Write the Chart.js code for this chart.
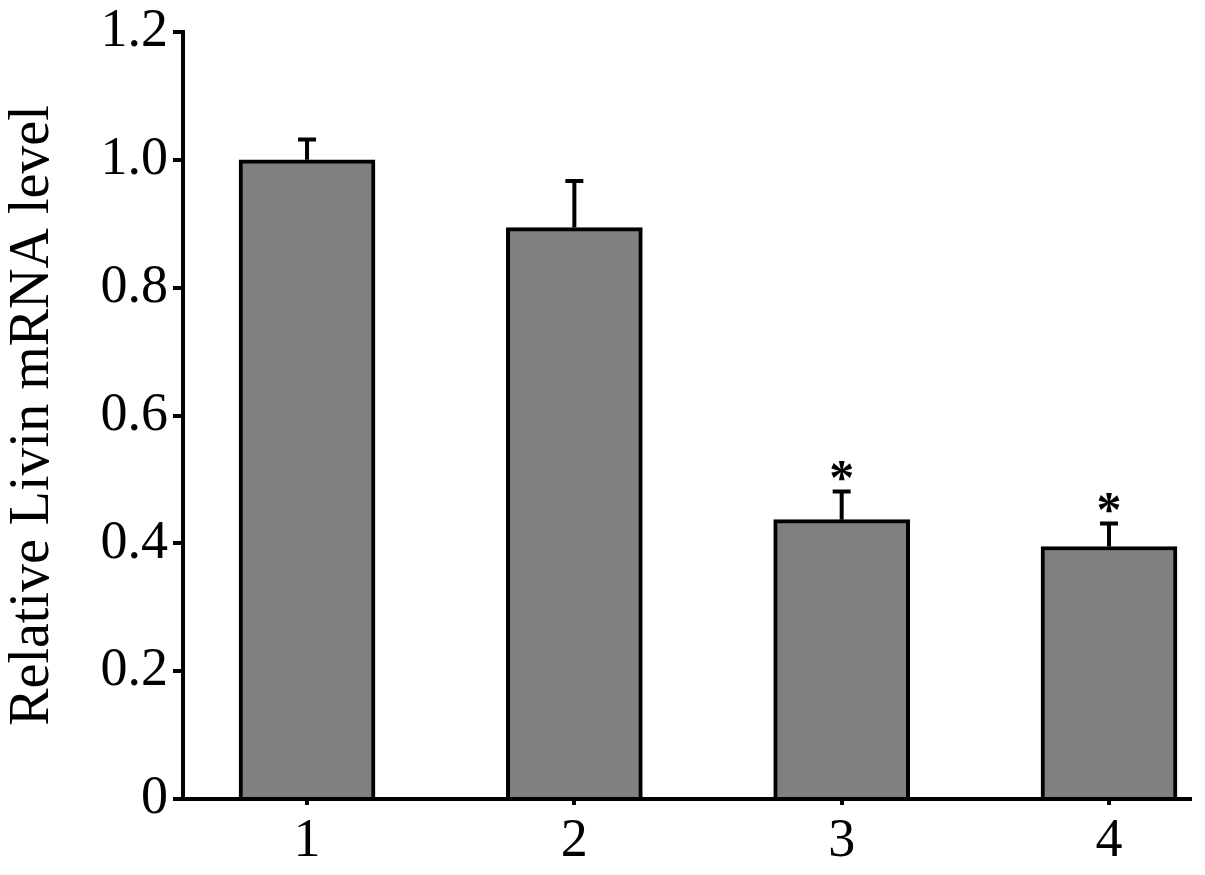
<!DOCTYPE html>
<html>
<head>
<meta charset="utf-8">
<script src="https://cdn.jsdelivr.net/npm/chart.js@4"></script>
<style>
  html, body { margin: 0; padding: 0; background: #fff; }
  #wrap { width: 1205px; height: 875px; position: relative; }
</style>
</head>
<body>
<div id="wrap"><canvas id="livinChart"></canvas></div>
<script>
// groups on the x axis
const categories = ['1', '2', '3', '4'];
// relative Livin mRNA level (mean) and upper error (SD)
const means = [1.0, 0.894, 0.437, 0.395];
const errors = [0.032, 0.073, 0.044, 0.036];
// significance marks shown above the error bars
const marks = ['', '', '*', '*'];
// y tick labels
const yTicks = [0, 0.2, 0.4, 0.6, 0.8, 1.0, 1.2];
const yTickLabels = ['0', '0.2', '0.4', '0.6', '0.8', '1.0', '1.2'];

const FONT = "'Liberation Serif', 'Times New Roman', serif";

// draws upper error bars + asterisks from the scales
const errorBars = {
  id: 'errorBars',
  afterDatasetsDraw(chart) {
    const { ctx, scales: { x, y } } = chart;
    ctx.save();
    ctx.strokeStyle = '#000';
    ctx.lineWidth = 4;
    ctx.lineCap = 'butt';
    means.forEach((m, i) => {
      const px = x.getPixelForValue(i + 1);
      const top = y.getPixelForValue(m + errors[i]);
      const base = y.getPixelForValue(m);
      ctx.beginPath();
      ctx.moveTo(px, base);
      ctx.lineTo(px, top);
      ctx.moveTo(px - 9, top);
      ctx.lineTo(px + 9, top);
      ctx.stroke();
      if (marks[i]) {
        ctx.fillStyle = '#000';
        ctx.font = "bold 50px " + FONT;
        ctx.textAlign = 'center';
        ctx.textBaseline = 'alphabetic';
        ctx.fillText(marks[i], px, top + 2);
      }
    });
    ctx.restore();
  }
};

const ctx = document.getElementById('livinChart').getContext('2d');
new Chart(ctx, {
  type: 'bar',
  data: {
    datasets: [{
      data: means.map((v, i) => ({ x: i + 1, y: v })),
      backgroundColor: '#808080',
      borderColor: '#000',
      borderWidth: 4,
      borderSkipped: 'bottom',
      barThickness: 136,
    }],
  },
  options: {
    responsive: true,
    maintainAspectRatio: false,
    animation: false,
    layout: { padding: { top: 20, right: 15, left: 0, bottom: 0 } },
    plugins: { legend: { display: false }, tooltip: { enabled: false } },
    scales: {
      x: {
        type: 'linear',
        min: 0.536,
        max: 4.303,
        offset: false,
        afterBuildTicks: (s) => { s.ticks = categories.map((c, i) => ({ value: i + 1 })); },
        afterFit: (s) => { s.height = 76; },
        ticks: {
          callback: (v) => categories[v - 1] ?? '',
          color: '#000',
          padding: 4,
          font: { family: FONT, size: 54 },
          maxRotation: 0,
        },
        grid: { display: true, offset: false, drawOnChartArea: false, drawTicks: true, tickLength: 6, color: '#000', lineWidth: 4 },
        border: { display: true, color: '#000', width: 4 },
      },
      y: {
        min: 0,
        max: 1.2,
        afterBuildTicks: (s) => { s.ticks = yTicks.map(v => ({ value: v })); },
        afterFit: (s) => { s.width = 183; },
        ticks: {
          callback: (v) => yTickLabels[yTicks.indexOf(v)] ?? '',
          color: '#000',
          padding: 5,
          font: { family: FONT, size: 54, lineHeight: 1 },
        },
        title: {
          display: true,
          text: 'Relative Livin mRNA level',
          color: '#000',
          font: { family: FONT, size: 56 },
          padding: { top: 0, bottom: 0 },
        },
        grid: { display: true, drawOnChartArea: false, drawTicks: true, tickLength: 10, color: '#000', lineWidth: 4 },
        border: { display: true, color: '#000', width: 4 },
      },
    },
  },
  plugins: [errorBars],
});
</script>
</body>
</html>
